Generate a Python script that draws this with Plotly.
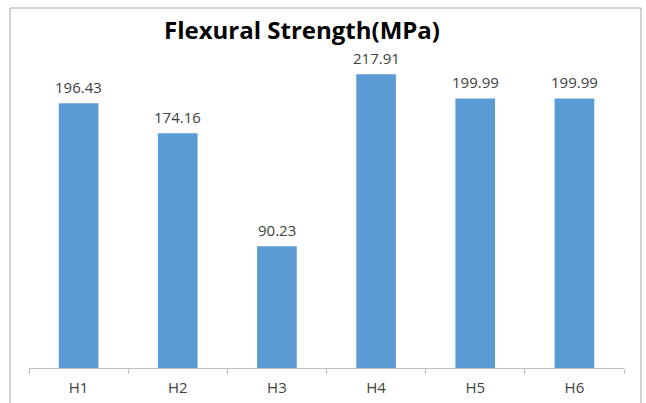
import plotly.graph_objects as go

categories = ["H1", "H2", "H3", "H4", "H5", "H6"]
strength = [196.43, 174.16, 90.23, 217.91, 199.99, 199.99]
labels = [f"{v:.2f}" for v in strength]

W, H = 646, 403
plot_left, plot_right = 29, 624
plot_top, plot_bottom = 31, 368

fig = go.Figure(
    go.Bar(
        x=categories,
        y=strength,
        marker=dict(color="#5B9BD5", line=dict(width=0)),
        hoverinfo="x+y",
    )
)

# Value labels above each bar
for cat, val, lab in zip(categories, strength, labels):
    fig.add_annotation(
        x=cat, y=val, text=lab,
        xref="x", yref="y",
        showarrow=False,
        yanchor="bottom",
        yshift=5,
        borderpad=0,
        font=dict(family="Open Sans", size=15, color="#404040"),
    )

fig.update_layout(
    width=W,
    height=H,
    margin=dict(l=plot_left, r=W - plot_right, t=plot_top, b=H - plot_bottom,
                autoexpand=False),
    paper_bgcolor="white",
    plot_bgcolor="white",
    bargap=0.6,
    showlegend=False,
    title=dict(
        text="<b>Flexural Strength(MPa)</b>",
        font=dict(family="Open Sans", size=24, color="black"),
        x=302 / W,
        xanchor="center",
        xref="container",
        y=1 - 31 / H,
        yanchor="middle",
        yref="container",
        automargin=False,
    ),
)

fig.update_xaxes(
    type="category",
    automargin=False,
    showline=True,
    linecolor="#BFBFBF",
    linewidth=1,
    ticks="outside",
    tickson="boundaries",
    ticklen=5,
    tickcolor="#BFBFBF",
    showgrid=False,
    ticklabelstandoff=6,
    tickfont=dict(family="Open Sans", size=15, color="#404040"),
)
fig.update_yaxes(range=[0, 250], visible=False, showgrid=False, automargin=False)

# Chart-area frame
fig.add_shape(
    type="rect",
    xref="paper", yref="paper",
    x0=(10 - plot_left) / (plot_right - plot_left),
    x1=(641 - plot_left) / (plot_right - plot_left),
    y0=(plot_bottom - 420) / (plot_bottom - plot_top),
    y1=(plot_bottom - 8) / (plot_bottom - plot_top),
    line=dict(color="#A6A6A6", width=1),
    fillcolor="rgba(0,0,0,0)",
    layer="below",
)

fig.write_html("out.html")
